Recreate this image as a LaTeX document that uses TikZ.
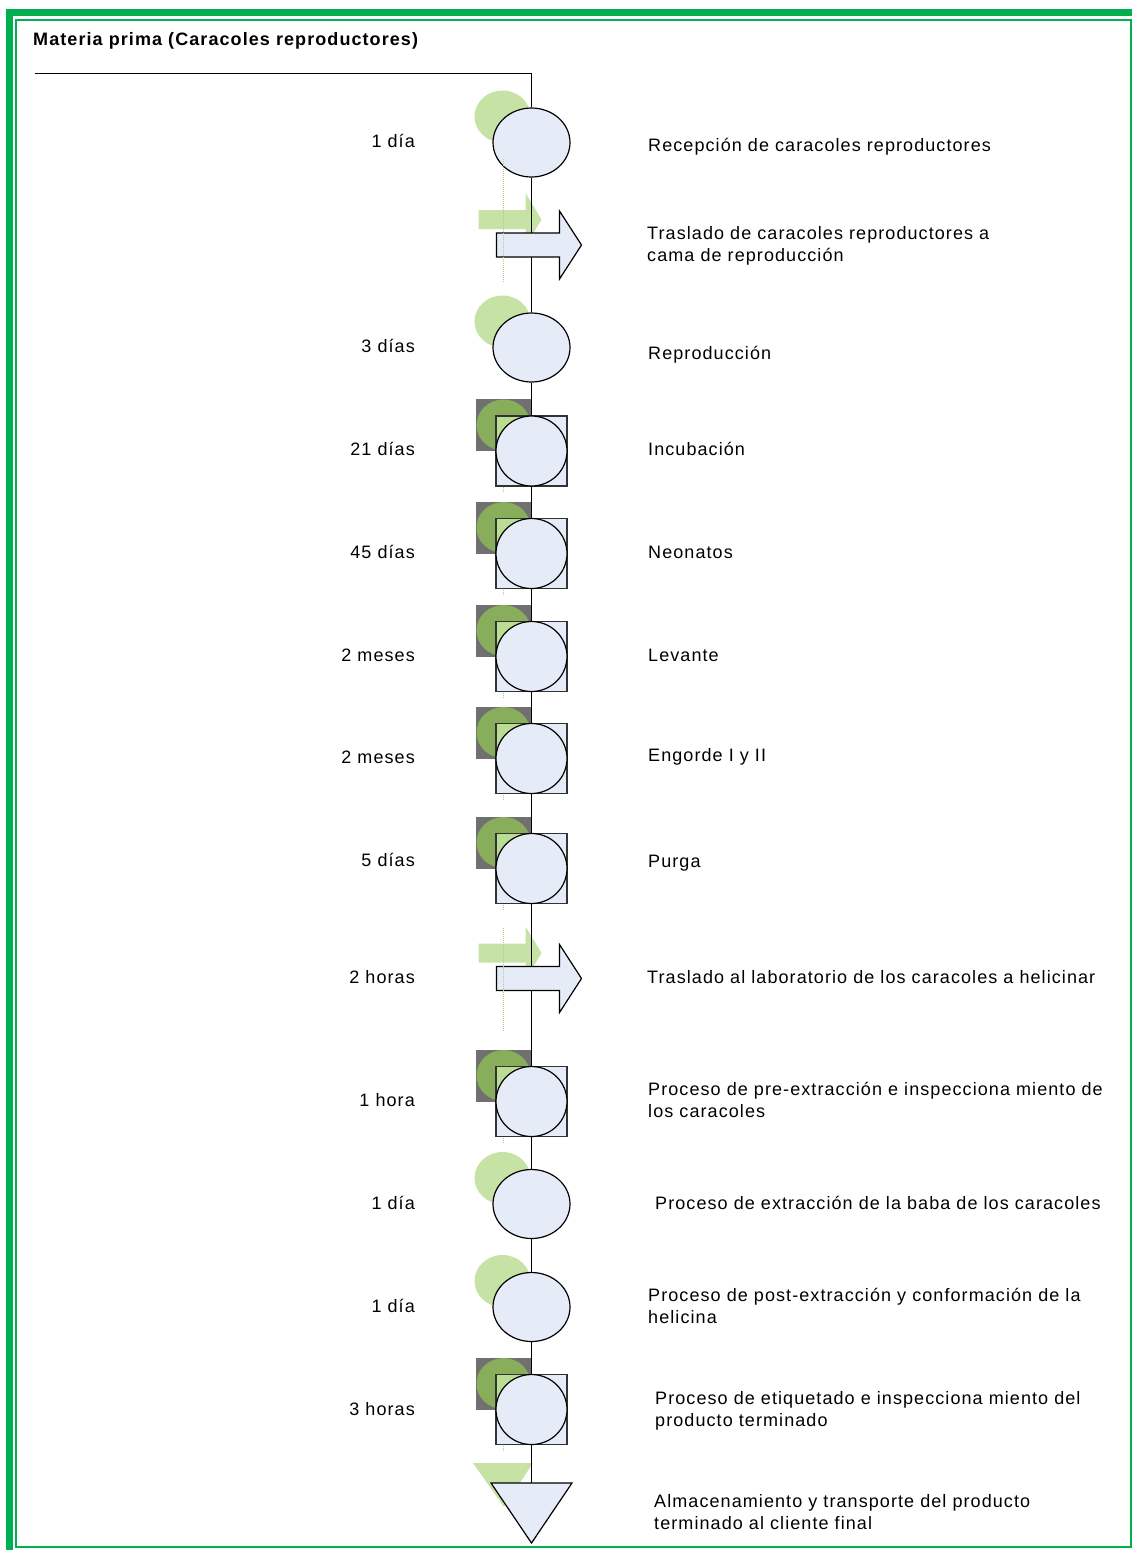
\documentclass[tikz,border=0pt]{standalone}
\usepackage{fontspec}
\setmainfont{Liberation Sans}[LetterSpace=6]
\usetikzlibrary{shapes.geometric}
\definecolor{bluef}{HTML}{E6ECF7}
\definecolor{shlight}{HTML}{C6E3A5}
\definecolor{shmid}{HTML}{88AE5C}
\definecolor{shgray}{HTML}{707070}
\definecolor{shcorner}{HTML}{B9DE93}
\definecolor{grnframe}{HTML}{00B050}
\definecolor{dotc}{HTML}{A9D18E}
\pgfdeclarelayer{bg}
\pgfdeclarelayer{mid}
\pgfsetlayers{bg,mid,main}
\tikzset{
  sym/.style={draw=black, line width=1.2pt, fill=bluef},
  lbl/.style={anchor=base east, inner sep=0pt},
  desc/.style={anchor=base west, inner sep=0pt, align=left},
  dotline/.style={draw=dotc, line width=1pt, dash pattern=on 1pt off 1pt},
  circsym/.pic={
    \begin{pgfonlayer}{bg}
      \fill[shlight] (-29,-26) ellipse [x radius=28, y radius=26];
    \end{pgfonlayer}
    \node[sym, ellipse, minimum width=77pt, minimum height=69pt, inner sep=0pt] (-s) at (0,0) {};
  },
  sqsym/.pic={
    \begin{pgfonlayer}{bg}
      \fill[shgray] (-55.5,-52) rectangle (-0.5,0);
      \fill[shmid] (-28,-26) ellipse [x radius=27, y radius=25.5];
    \end{pgfonlayer}
    \node[sym, draw=black!80, minimum width=71pt, minimum height=70pt, inner sep=0pt] (-s) at (0,0) {};
    \begin{scope}
      \clip (-35,-34.5) rectangle (35,34.5);
      \fill[shcorner] (-28,-26) ellipse [x radius=27, y radius=25.5];
    \end{scope}
    \draw[line width=1.2pt, draw=black!80] (-35.5,-35) rectangle (35.5,35);
    \draw[sym] (0,0) ellipse [x radius=35.5, y radius=35];
    \draw[dotline] (-28,36) -- (-28,41);
  },
  arrsym/.pic={
    \begin{pgfonlayer}{bg}
      \fill[shlight] (-53,-35) -- (-6,-35) -- (-6,-52) -- (10,-25.5) -- (-6,1) -- (-6,-16) -- (-53,-16) -- cycle;
    \end{pgfonlayer}
    \filldraw[sym] (-35,-12) -- (28,-12) -- (28,-34) -- (50,0) -- (28,34) -- (28,12) -- (-35,12) -- cycle;
    \coordinate (-s) at (0,0);
  },
  trisym/.pic={
    \begin{pgfonlayer}{bg}
      \fill[shlight] (-58.5,-20) -- (1.5,-20) -- (-27.5,24) -- cycle;
    \end{pgfonlayer}
    \filldraw[sym] (-40.5,0) -- (40.5,0) -- (0,60) -- cycle;
    \coordinate (-s) at (0,0);
  }
}
\begin{document}
\begin{tikzpicture}[x=1pt,y=-1pt,font=\fontsize{18}{22}\selectfont]
\useasboundingbox (0,0) rectangle (1132,1550);
% frame
\draw[grnframe, line width=7pt] (9.5,12.5) rectangle (1150,1570);
\draw[grnframe, line width=2pt] (16,20) rectangle (1131,1547);

\node[anchor=base west, inner sep=0pt, font=\bfseries\fontsize{18}{22}\selectfont] (title) at (33,45) {Materia prima (Caracoles reproductores)};

\coordinate (start) at (35,73.5);
\coordinate (corner) at (531.5,73.5);

% symbols
\pic (r1) at (531.5,142.5) {circsym};
\pic (r2) at (531.5,245) {arrsym};
\pic (r3) at (531.5,347.5) {circsym};
\pic (r4) at (531.5,451) {sqsym};
\pic (r5) at (531.5,553.5) {sqsym};
\pic (r6) at (531.5,656.5) {sqsym};
\pic (r7) at (531.5,758.5) {sqsym};
\pic (r8) at (531.5,868.5) {sqsym};
\pic (r9) at (531.5,978.5) {arrsym};
\pic (r10) at (531.5,1101.5) {sqsym};
\pic (r11) at (531.5,1204) {circsym};
\pic (r12) at (531.5,1307) {circsym};
\pic (r13) at (531.5,1409.5) {sqsym};
\pic (r14) at (531.5,1483) {trisym};

% main flow line
\begin{pgfonlayer}{mid}
\draw[line width=1pt] (start) -- (corner) -- (r1-s) -- (r2-s) -- (r3-s) -- (r4-s) -- (r5-s) -- (r6-s) -- (r7-s) -- (r8-s) -- (r9-s) -- (r10-s) -- (r11-s) -- (r12-s) -- (r13-s) -- (r14-s);
\end{pgfonlayer}

% faint dotted guides
\coordinate (d1a) at (503,159);
\coordinate (d1b) at (503,282);
\coordinate (d2a) at (503,928);
\coordinate (d2b) at (503,1032);
\draw[dotline] (d1a) -- (d1b);
\draw[dotline] (d2a) -- (d2b);

% left labels
\node[lbl] (l1) at (415,147) {1 día};
\node[lbl] (l3) at (415,352) {3 días};
\node[lbl] (l4) at (415,455) {21 días};
\node[lbl] (l5) at (415,558) {45 días};
\node[lbl] (l6) at (415,661) {2 meses};
\node[lbl] (l7) at (415,763) {2 meses};
\node[lbl] (l8) at (415,866) {5 días};
\node[lbl] (l9) at (415,983) {2 horas};
\node[lbl] (l10) at (415,1106) {1 hora};
\node[lbl] (l11) at (415,1209) {1 día};
\node[lbl] (l12) at (415,1312) {1 día};
\node[lbl] (l13) at (415,1415) {3 horas};

% descriptions (base anchor = baseline of the last line)
\node[desc] (t1) at (648,151) {Recepción de caracoles reproductores};
\node[desc] (t2) at (647,261) {Traslado de caracoles reproductores a\\cama de reproducción};
\node[desc] (t3) at (648,359) {Reproducción};
\node[desc] (t4) at (648,455) {Incubación};
\node[desc] (t5) at (648,558) {Neonatos};
\node[desc] (t6) at (648,661) {Levante};
\node[desc] (t7) at (648,761) {Engorde I y II};
\node[desc] (t8) at (648,867) {Purga};
\node[desc] (t9) at (647,983) {Traslado al laboratorio de los caracoles a helicinar};
\node[desc] (t10) at (648,1117) {Proceso de pre-extracción e inspecciona miento de\\los caracoles};
\node[desc] (t11) at (655,1209) {Proceso de extracción de la baba de los caracoles};
\node[desc] (t12) at (648,1323) {Proceso de post-extracción y conformación de la\\helicina};
\node[desc] (t13) at (655,1426) {Proceso de etiquetado e inspecciona miento del\\producto terminado};
\node[desc] (t14) at (654,1529) {Almacenamiento y transporte del producto\\terminado al cliente final};
\end{tikzpicture}
\end{document}
